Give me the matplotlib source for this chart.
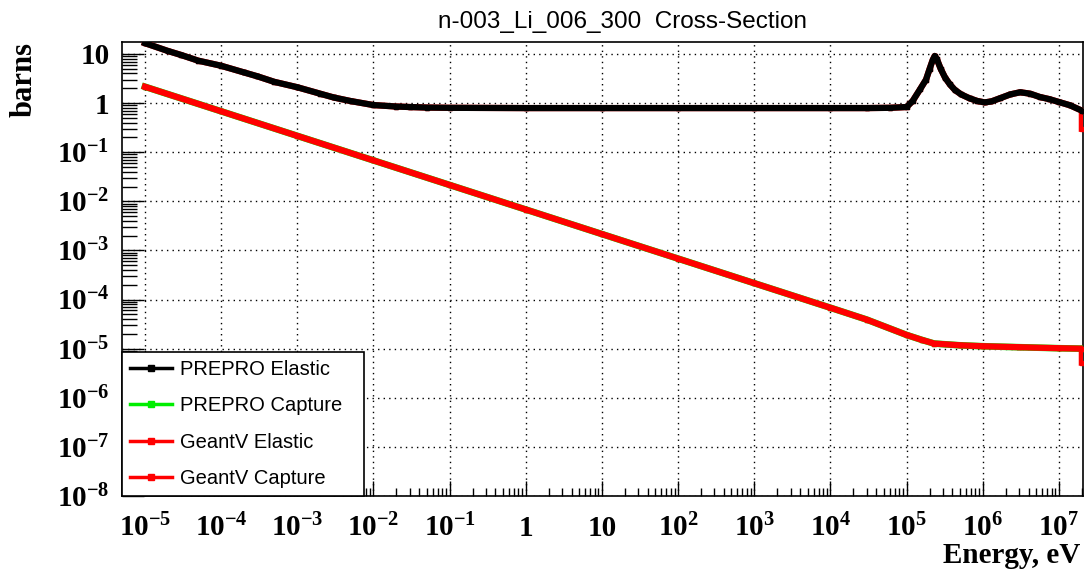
import matplotlib
matplotlib.use("Agg")
import matplotlib.pyplot as plt
from matplotlib.ticker import FixedLocator, LogLocator, NullFormatter

# Данные
energy_el = [1e-5, 2e-5, 3e-5, 5e-5, 1e-4, 2e-4, 3e-4, 5e-4, 1e-3, 2e-3, 3e-3, 5e-3,
             1e-2, 2e-2, 3e-2, 5e-2, 0.1, 1, 10, 100, 1e3, 1e4, 3e4, 6e4, 1e5,
             1.2e5, 1.5e5, 1.8e5, 2.0e5, 2.2e5, 2.34e5, 2.5e5, 2.8e5, 3.2e5, 3.7e5,
             4.3e5, 5.2e5, 6.7e5, 8.5e5, 1.06e6, 1.3e6, 1.7e6, 2.3e6, 3.1e6, 4.2e6,
             5.6e6, 7.5e6, 1e7, 1.4e7, 2e7]
prepro_el = [16.6, 11.5, 9.5, 7.3, 5.75, 4.2, 3.5, 2.7, 2.1, 1.55, 1.3, 1.1,
             0.91, 0.85, 0.83, 0.81, 0.80, 0.79, 0.79, 0.79, 0.79, 0.79, 0.79, 0.80, 0.83,
             1.1, 1.9, 3.0, 4.9, 7.5, 9.1, 7.8, 5.0, 3.3, 2.4,
             1.85, 1.5, 1.25, 1.1, 1.03, 1.08, 1.26, 1.5, 1.66, 1.55,
             1.33, 1.2, 1.05, 0.9, 0.7]
geantv_el = prepro_el + [0.3]

energy_cap = [1e-5, 1e-4, 1e-3, 1e-2, 0.1, 1, 10, 100, 1e3, 1e4, 3e4, 1e5, 1.6e5,
              2.3e5, 5e5, 1e6, 3e6, 1e7, 2e7]
prepro_cap = [2.15, 0.68, 0.215, 0.068, 0.0215, 6.8e-3, 2.15e-3, 6.8e-4, 2.15e-4,
              6.8e-5, 3.9e-5, 1.9e-5, 1.5e-5, 1.27e-5, 1.17e-5, 1.12e-5, 1.07e-5,
              1.02e-5, 1.0e-5]
geantv_cap = prepro_cap + [5.2e-6]

xticks = [1e-5, 1e-4, 1e-3, 1e-2, 1e-1, 1, 10, 1e2, 1e3, 1e4, 1e5, 1e6, 1e7]
xlabels = [r"$\mathdefault{10^{-5}}$", r"$\mathdefault{10^{-4}}$", r"$\mathdefault{10^{-3}}$",
           r"$\mathdefault{10^{-2}}$", r"$\mathdefault{10^{-1}}$", "1", "10",
           r"$\mathdefault{10^{2}}$", r"$\mathdefault{10^{3}}$", r"$\mathdefault{10^{4}}$",
           r"$\mathdefault{10^{5}}$", r"$\mathdefault{10^{6}}$", r"$\mathdefault{10^{7}}$"]
yticks = [10, 1, 1e-1, 1e-2, 1e-3, 1e-4, 1e-5, 1e-6, 1e-7, 1e-8]
ylabels = ["10", "1"] + [r"$\mathdefault{10^{-%d}}$" % k for k in range(1, 9)]

SERIF = "Liberation Serif"
SANS = "Liberation Sans"

fig = plt.figure(figsize=(10.84, 5.71), dpi=100)
ax = fig.add_axes([122 / 1084, 1 - 496 / 571, 961 / 1084, 454 / 571])

lw = 4.5
ms = 3
# порядок как в ROOT: чёрный поверх красного, красный поверх зелёного
ax.plot(energy_el + [2e7], geantv_el, color="red", lw=lw, marker="s", ms=ms, zorder=3)
ax.plot(energy_el, prepro_el, color="black", lw=lw, marker="s", ms=ms, zorder=4)
ax.plot(energy_cap, prepro_cap, color="#00ee00", lw=lw + 0.3, marker="s", ms=ms, zorder=3)
ax.plot(energy_cap + [2e7], geantv_cap, color="red", lw=lw, marker="s", ms=ms, zorder=4)

ax.set_xscale("log")
ax.set_yscale("log")
ax.set_xlim(5e-6, 2.07e7)
ax.set_ylim(1e-8, 17.5)

ax.xaxis.set_major_locator(FixedLocator(xticks))
ax.set_xticklabels(xlabels)
ax.yaxis.set_major_locator(FixedLocator(yticks))
ax.set_yticklabels(ylabels)
ax.xaxis.set_minor_locator(LogLocator(base=10, subs=range(2, 10), numticks=40))
ax.yaxis.set_minor_locator(LogLocator(base=10, subs=range(2, 10), numticks=40))
ax.xaxis.set_minor_formatter(NullFormatter())
ax.yaxis.set_minor_formatter(NullFormatter())

ax.tick_params(axis="x", which="major", direction="in", length=11, width=1, pad=29,
               top=False)
ax.tick_params(axis="x", which="minor", direction="in", length=6, width=1, top=False)
ax.tick_params(axis="y", which="major", direction="in", length=16, width=1, pad=9,
               right=False)
ax.tick_params(axis="y", which="minor", direction="in", length=11, width=1, right=False)

for lab in ax.get_xticklabels():
    lab.set_fontfamily(SERIF)
    lab.set_fontweight("bold")
    lab.set_fontsize(21)
    lab.set_verticalalignment("baseline")
for lab in ax.get_yticklabels():
    lab.set_fontfamily(SERIF)
    lab.set_fontweight("bold")
    lab.set_fontsize(21)

ax.grid(True, which="major", color="black", linestyle=(0, (1, 3)), linewidth=1)
for sp in ax.spines.values():
    sp.set_linewidth(1.2)

leg = ax.legend(["PREPRO Elastic", "PREPRO Capture", "GeantV Elastic", "GeantV Capture"],
                loc="lower left", bbox_to_anchor=(0, 0, 242 / 961, 144 / 454),
                mode="expand", borderaxespad=0, fancybox=False, edgecolor="black",
                framealpha=1, prop={"family": SANS, "size": 14.5},
                handlelength=2.1, handletextpad=0.4, labelspacing=0.86, borderpad=0.4)
leg.get_frame().set_linewidth(1.2)
leg.set_zorder(10)
handles = leg.legend_handles
for h, c in zip(handles, ["black", "#00ee00", "red", "red"]):
    h.set_color(c)
    h.set_linewidth(2.5)
    h.set_markersize(4)

fig.text(623 / 1084, 1 - 28 / 571, "n-003_Li_006_300  Cross-Section", ha="center",
         va="baseline", fontsize=17.5, family=SANS)
fig.text(24 / 1084, 1 - 42 / 571, "barns", rotation=90, ha="center", va="top",
         fontsize=22, family=SERIF, weight="bold")
fig.text(1080 / 1084, 1 - 563 / 571, "Energy, eV", ha="right", va="baseline",
         fontsize=21, family=SERIF, weight="bold")

plt.savefig("out.png", dpi=100)
plt.close()
